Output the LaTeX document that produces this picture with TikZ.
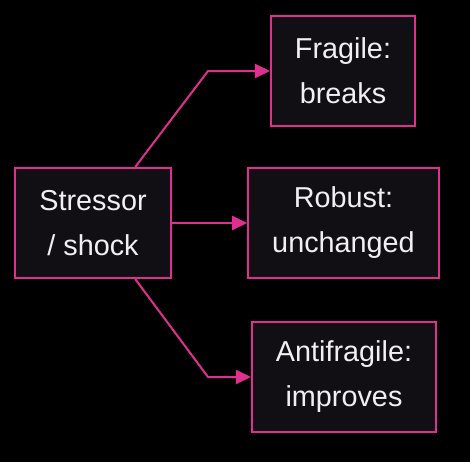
\documentclass[tikz,border=0pt]{standalone}
\usepackage{fontspec}
\setmainfont{Liberation Sans}
\newfontfamily\boxfont[Color=F2EEF2]{Liberation Sans}
\usetikzlibrary{arrows.meta}
\definecolor{pinkline}{HTML}{E0308F}
\definecolor{boxfill}{HTML}{120F14}
\begin{document}
\begin{tikzpicture}[x=0.5pt, y=-0.5pt, line width=1pt, >={Triangle[length=7.5pt, width=7pt]}]
    \tikzstyle{state}=[rectangle, draw=pinkline, fill=boxfill, align=center, inner xsep=12pt, minimum height=55pt, font=\boxfont\fontsize{14.4}{22.5}\selectfont]
    \tikzstyle{link}=[->, color=pinkline]

    \fill[black] (0,0) rectangle (470,462);
    \useasboundingbox (0,0) rectangle (470,462);

    \node[state] (stressor) at (93, 223) {Stressor\\/ shock};
    \node[state] (fragile) at (343, 71) {Fragile:\\breaks};
    \node[state] (robust) at (343.5, 223) {Robust:\\unchanged};
    \node[state] (antifragile) at (344, 377) {Antifragile:\\improves};

    \coordinate (kneeup) at (208, 71);
    \coordinate (kneedown) at (208, 377);

    \draw[link] (stressor.53) -- (kneeup) -- (fragile.west);
    \draw[link] (stressor.east) -- (robust.west);
    \draw[link] (stressor.-53) -- (kneedown) -- (antifragile.west);
\end{tikzpicture}
\end{document}
